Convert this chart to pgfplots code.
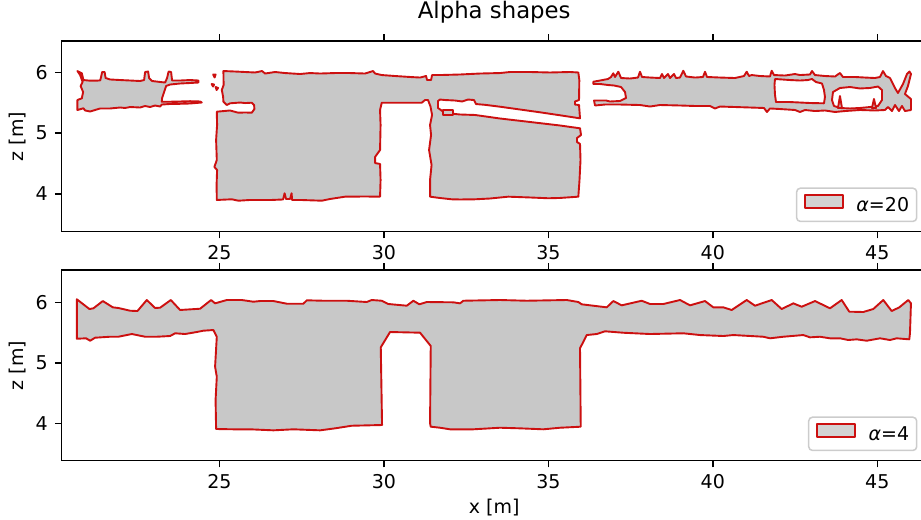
\documentclass[border=0pt]{standalone}
\usepackage{fontspec}
\setmainfont{DejaVu Sans}
\usepackage{pgfplots}
\pgfplotsset{compat=1.18}
\definecolor{shapefill}{RGB}{200,200,200}
\definecolor{shapeedge}{RGB}{204,16,16}
\definecolor{legedge}{RGB}{204,204,204}
\pgfplotsset{
  myaxis/.style={
    scale only axis, width=455.5pt, height=100.37pt,
    xmin=20.20, xmax=46.51,
    xtick={25,30,35,40,45}, ytick={4,5,6},
    tick align=outside, major tick length=3.5pt,
    major tick style={line width=0.8pt, black},
    axis line style={line width=0.8pt},
    tick label style={font=\fontsize{10}{12}\selectfont},
    label style={font=\fontsize{10}{12}\selectfont},
    /pgf/number format/assume math mode=true,
    xticklabel style={inner sep=0pt, anchor=north, yshift=-3.5pt},
    yticklabel style={inner sep=0pt, anchor=east, xshift=-3.5pt},
    ylabel={z [m]},
    ylabel style={at={(axis description cs:-0.0505,0.5)}, anchor=center},
    legend style={at={(1,0)}, anchor=south east, xshift=-5pt, yshift=5pt,
      draw=legedge, line width=0.8pt, rounded corners=2pt,
      fill=white, fill opacity=0.8, draw opacity=1, text opacity=1,
      font=\fontsize{10}{12}\selectfont, inner xsep=4pt, inner ysep=3pt,
      nodes={inner sep=0pt, text height=7.6pt, text depth=2.4pt}},
    legend image code/.code={\draw[#1, sharp corners] (0pt,-1pt) rectangle (20pt,6pt); \path[draw=none, fill=none] (0pt,0pt) -- (27pt,0pt);},
  },
  poly/.style={fill=shapefill, draw=shapeedge, line width=1pt, line join=round, mark=none},
  hole/.style={poly, fill=white, forget plot},
}
\begin{document}
\begin{tikzpicture}
% ---------------- top: alpha = 20 ----------------
\begin{axis}[myaxis, at={(32.37pt,151.21pt)}, anchor=south west,
  ymin=3.378, ymax=6.515,
  title={Alpha shapes},
  title style={at={(0.5,1)}, anchor=base, yshift=6pt, font=\fontsize{12}{14}\selectfont}]
\addplot[poly] coordinates {
(20.684,6.021) (20.818,5.984) (20.866,5.873) (21.070,5.862) (21.374,5.865) (21.404,5.923) (21.435,6.005) (21.511,6.005) (21.541,5.906) (21.678,5.882) (21.982,5.873) (22.286,5.865) (22.590,5.857) (22.711,5.873) (22.742,6.005) (22.833,6.013) (22.863,5.906) (22.954,5.857) (23.198,5.841) (23.350,5.832) (23.410,5.906) (23.456,6.013) (23.532,6.005) (23.553,5.906) (23.562,5.865) (23.806,5.865) (24.110,5.873) (24.362,5.865) (24.362,5.832) (24.110,5.824) (23.806,5.816) (23.502,5.799) (23.380,5.775) (23.319,5.676) (23.258,5.577) (23.249,5.516) (23.502,5.516) (23.806,5.520) (24.110,5.525) (24.413,5.520) (24.465,5.503) (24.110,5.487) (23.806,5.482) (23.502,5.479) (23.249,5.470) (23.198,5.437) (23.046,5.454) (22.894,5.429) (22.742,5.446) (22.590,5.421) (22.286,5.429) (22.134,5.413) (21.982,5.421) (21.678,5.405) (21.374,5.405) (21.222,5.380) (21.070,5.355) (20.918,5.372) (20.866,5.408) (20.684,5.380) (20.684,5.544) (20.818,5.572) (20.857,5.676) (20.781,5.775) (20.842,5.840) (20.766,5.956)
} --cycle;
\addlegendentry{\textit{α}=20}
% small fragments
\addplot[poly, forget plot] coordinates {(24.809,5.964) (24.885,5.964) (24.854,5.914)} --cycle;
\addplot[poly, forget plot] coordinates {(24.763,5.808) (24.839,5.799) (24.809,5.766)} --cycle;
\addplot[poly, forget plot] coordinates {(24.885,5.758) (24.961,5.742) (24.915,5.709)} --cycle;
% middle structure
\addplot[poly, forget plot] coordinates {
(25.122,6.021) (25.477,6.013) (25.781,6.005) (26.085,5.997) (26.298,6.021) (26.389,5.980) (26.693,6.005) (26.997,5.988) (27.453,5.972) (27.757,5.988) (28.061,5.980) (28.517,5.988) (28.973,5.988) (29.428,5.980) (29.672,6.021) (29.732,5.980) (29.936,5.955) (30.341,5.939) (30.797,5.923) (31.101,5.914) (31.283,5.939) (31.313,5.873) (31.435,5.873) (31.465,5.955) (31.708,5.955) (32.316,5.964) (32.924,5.980) (33.532,5.988) (33.836,6.005) (34.443,6.005) (35.051,5.997) (35.659,6.005) (35.912,5.997)
(35.942,5.873) (35.933,5.544) (35.811,5.520) (35.811,5.470) (35.933,5.462) (35.963,5.243)
(35.355,5.293) (34.748,5.342) (34.140,5.388) (33.532,5.434) (33.076,5.465) (32.802,5.478) (32.741,5.544) (32.559,5.552) (32.377,5.520) (32.164,5.536) (31.860,5.544) (31.708,5.552) (31.647,5.528) (31.647,5.413)
(31.860,5.331) (32.316,5.306) (32.772,5.298) (33.532,5.240) (34.443,5.183) (35.355,5.125) (35.963,5.079)
(35.994,4.969) (35.872,4.919) (35.872,4.854) (35.963,4.821) (35.978,4.558) (35.948,4.229) (35.912,3.954)
(35.355,3.933) (35.000,3.928) (34.443,3.941) (33.784,3.954) (33.228,3.924) (32.772,3.911) (32.316,3.908) (32.064,3.911) (31.708,3.932) (31.404,3.954)
(31.404,4.229) (31.450,4.475) (31.374,4.722) (31.435,4.969) (31.404,5.133) (31.465,5.298) (31.419,5.434) (31.343,5.544) (31.252,5.544) (31.152,5.500) (30.492,5.500) (29.936,5.500)
(29.884,5.380) (29.900,5.133) (29.884,4.722) (29.732,4.607) (29.732,4.508) (29.884,4.492) (29.900,4.229) (29.884,3.954)
(29.428,3.957) (28.820,3.954) (28.365,3.916) (28.112,3.888) (27.453,3.900) (27.210,3.900) (27.195,4.010) (27.149,3.916) (27.027,3.916) (26.982,4.010) (26.936,3.908) (26.593,3.900) (25.933,3.900) (25.578,3.888) (25.377,3.911) (24.921,3.900)
(24.915,4.147) (24.930,4.393) (24.848,4.443) (24.921,4.558) (24.900,4.887) (24.930,5.133) (24.921,5.352)
(25.325,5.372) (25.568,5.336) (25.781,5.339) (25.985,5.336) (26.064,5.396) (26.055,5.462) (25.985,5.500) (25.781,5.494) (25.629,5.503) (25.325,5.490) (25.225,5.462) (25.122,5.516) (25.113,5.599) (25.073,5.709) (25.128,5.791)
} --cycle;
\addplot[poly, forget plot] coordinates {(31.800,5.380) (32.104,5.380) (32.104,5.298) (31.800,5.298)} --cycle;
% right structure
\addplot[poly, forget plot] coordinates {
(36.368,5.845) (36.571,5.865) (36.814,5.890) (36.905,5.923) (36.975,5.984) (37.027,5.923) (37.127,6.010) (37.210,5.906) (37.483,5.898) (37.726,5.914) (37.787,6.010) (37.848,5.923) (38.091,5.914) (38.395,5.906) (38.456,5.972) (38.516,5.906) (38.638,5.972) (38.699,5.906) (38.821,5.972) (38.881,5.906) (39.003,5.914) (39.103,6.026) (39.185,5.931) (39.459,5.914) (39.702,5.923) (39.763,6.010) (39.824,5.923) (40.219,5.914) (40.675,5.906) (40.948,5.939) (41.030,6.010) (41.100,5.939) (41.182,5.955) (41.434,5.939) (41.738,5.931) (41.790,6.026) (41.860,5.955) (42.194,5.947) (42.498,5.972) (42.650,5.955) (42.954,5.964) (43.015,6.021) (43.106,5.955) (43.410,5.939) (43.714,5.931) (43.866,5.989) (43.957,5.923) (44.322,5.923) (44.626,5.914) (44.930,5.906) (45.082,5.923) (45.173,6.021) (45.265,5.939) (45.386,5.906) (45.538,5.742) (45.629,5.660) (45.781,5.807) (45.903,5.972) (45.979,6.013) (46.024,5.972) (45.933,5.775) (45.842,5.643) (46.024,5.560) (46.024,5.380)
(45.842,5.363) (45.751,5.446) (45.660,5.363) (45.538,5.462) (45.447,5.363) (45.325,5.429) (45.234,5.380) (44.930,5.372) (44.474,5.380) (44.018,5.363) (43.714,5.347) (43.410,5.372) (43.106,5.363) (42.802,5.380) (42.650,5.347) (42.498,5.380) (42.042,5.396) (41.738,5.405) (41.647,5.347) (41.556,5.413) (41.130,5.421) (40.675,5.429) (40.219,5.437) (40.067,5.405) (39.915,5.446) (39.459,5.446) (39.003,5.454) (38.395,5.462) (38.091,5.437) (37.787,5.462) (37.179,5.470) (36.723,5.470) (36.419,5.454) (36.389,5.536)
(36.754,5.536) (36.875,5.520) (37.179,5.528) (37.362,5.577) (37.331,5.676) (37.210,5.758) (36.997,5.783) (36.814,5.791) (36.571,5.808) (36.368,5.808)
} --cycle;
\addplot[hole] coordinates {
(41.891,5.890) (42.346,5.873) (42.650,5.865) (42.893,5.873) (43.015,5.890) (43.137,5.840) (43.319,5.816) (43.380,5.709) (43.410,5.594) (43.380,5.490) (42.954,5.495) (42.650,5.503) (42.346,5.511) (41.921,5.511) (41.891,5.627) (41.875,5.791)
} --cycle;
\addplot[hole] coordinates {
(43.654,5.676) (43.866,5.742) (44.170,5.758) (44.474,5.734) (44.778,5.742) (45.021,5.766) (45.143,5.709) (45.143,5.544) (45.021,5.446) (44.778,5.429) (44.474,5.413) (44.170,5.405) (43.866,5.413) (43.684,5.446) (43.623,5.544)
} --cycle;
\addplot[poly, forget plot] coordinates {(43.806,5.413) (43.866,5.610) (43.927,5.413)} --cycle;
\addplot[poly, forget plot] coordinates {(44.839,5.413) (44.900,5.561) (44.961,5.413)} --cycle;
\end{axis}
% ---------------- bottom: alpha = 4 ----------------
\begin{axis}[myaxis, at={(32.37pt,30.68pt)}, anchor=south west,
  ymin=3.382, ymax=6.534,
  xlabel={x [m]},
  xlabel style={at={(axis description cs:0.5,0)}, anchor=center, yshift=-24.9pt}]
\addplot[poly] coordinates {
(20.666,6.050) (21.049,5.889) (21.170,5.901) (21.456,6.021) (21.760,5.917) (21.930,5.906) (22.286,5.861) (22.508,5.856) (22.793,6.038) (23.046,5.906) (23.198,5.911) (23.523,6.038) (23.805,5.873) (24.413,5.894) (24.748,6.038) (24.869,5.983) (25.225,6.038) (25.681,6.038) (26.033,6.010) (26.237,6.021) (26.641,6.021) (27.049,5.977) (27.553,5.977) (27.657,6.033) (28.161,6.026) (28.872,6.026) (29.480,6.005) (29.632,6.038) (29.936,6.026) (30.137,5.972) (30.696,5.944) (30.897,6.026) (31.079,5.967) (31.304,6.005) (32.112,6.000) (32.316,5.983) (32.416,6.026) (33.532,6.038) (34.343,6.026) (35.559,6.038) (35.912,6.005) (36.015,5.967) (36.775,5.917) (36.976,6.021) (37.231,5.950) (37.839,6.026) (38.091,5.972) (38.496,5.972) (39.003,6.038) (39.307,5.950) (39.763,6.021) (40.015,5.917) (40.319,5.917) (40.574,5.873) (41.030,6.038) (41.283,5.944) (41.790,6.038) (42.094,5.889) (42.447,5.983) (42.702,5.927) (43.107,6.021) (43.563,5.901) (43.918,6.038) (44.149,5.845) (44.574,5.840) (44.878,5.889) (45.182,6.038) (45.438,5.856) (45.669,5.917) (45.942,6.038) (46.024,5.983) (45.994,5.488) (45.973,5.388)
(45.589,5.405) (45.385,5.377) (45.082,5.405) (44.678,5.365) (44.374,5.388) (44.119,5.377) (43.866,5.405) (43.562,5.405) (43.258,5.431) (42.954,5.421) (42.751,5.459) (42.143,5.431) (41.739,5.405) (41.535,5.431) (40.623,5.459) (40.319,5.443) (39.611,5.459) (39.103,5.488) (38.091,5.476) (37.280,5.497) (36.723,5.521) (36.471,5.476) (36.167,5.459) (35.963,5.240) (35.985,3.944)
(35.356,3.927) (34.848,3.901) (34.140,3.917) (33.532,3.927) (32.720,3.901) (32.012,3.901) (31.708,3.927) (31.425,3.944) (31.404,4.000) (31.425,5.278) (31.100,5.498) (30.188,5.509) (29.906,5.256) (29.945,3.972)
(29.024,3.960) (28.517,3.917) (28.061,3.884) (27.249,3.901) (26.641,3.884) (25.933,3.901) (25.426,3.901) (24.900,3.906) (24.884,4.386) (24.921,4.770) (24.869,4.935) (24.921,5.431) (24.818,5.542)
(24.514,5.531) (24.313,5.509) (23.957,5.476) (23.654,5.488) (23.502,5.443) (23.097,5.431) (22.742,5.431) (22.337,5.476) (21.930,5.431) (21.678,5.431) (21.222,5.415) (21.070,5.365) (20.948,5.405) (20.666,5.398)
} --cycle;
\addlegendentry{\textit{α}=4}
\end{axis}
\pgfresetboundingbox
\useasboundingbox (0pt,0pt) rectangle (484.74pt,273.16pt);
\end{tikzpicture}
\end{document}
